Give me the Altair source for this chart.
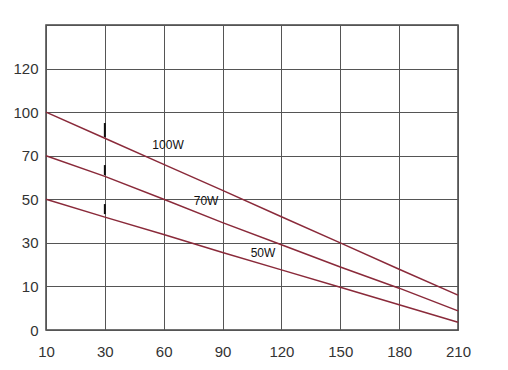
import altair as alt
import pandas as pd

# Axis grid values (equally spaced on the chart)
x_ticks = [10, 30, 60, 90, 120, 150, 180, 210]
y_ticks = [0, 10, 30, 50, 70, 100, 120, 140]

# Series (value at each x grid line)
series_names = ["100W", "70W", "50W"]
vals_100w = [100, 82.0, 66.0, 54.1, 42.0, 30.0, 17.9, 8.0]
vals_70w = [70, 60.5, 50.0, 39.3, 29.1, 18.9, 9.6, 4.4]
vals_50w = [50, 41.8, 33.8, 25.6, 17.6, 9.8, 5.8, 1.8]

# Short dash marks at x = 30
dash_x = [30, 30, 30]
dash_y1 = [92.5, 65.7, 47.8]
dash_y2 = [82.9, 61.1, 43.2]

# Curve labels
label_text = ["100W", "70W", "50W"]
label_x = [62.2, 81.6, 110.6]
label_y = [77.4, 49.2, 25.3]

W, H = 412, 305
n = len(x_ticks) - 1
x_range = [W * i / n for i in range(n + 1)]
y_range = [H - H * i / n for i in range(n + 1)]

rows = []
for name, vals in zip(series_names, [vals_100w, vals_70w, vals_50w]):
    for xv, yv in zip(x_ticks, vals):
        rows.append({"series": name, "x": xv, "y": yv})
df = pd.DataFrame(rows)
dash_df = pd.DataFrame({"x": dash_x, "y": dash_y1, "y2": dash_y2})
lab_df = pd.DataFrame({"t": label_text, "x": label_x, "y": label_y})

xscale = alt.Scale(domain=x_ticks, range=x_range, nice=False, zero=False)
yscale = alt.Scale(domain=y_ticks, range=y_range, nice=False, zero=False)

xaxis = alt.Axis(values=x_ticks, title=None, grid=True, gridColor="#555555",
                 gridOpacity=1, gridWidth=1, ticks=False, domain=False,
                 labelFont="Liberation Sans", labelFontSize=15, labelColor="#333333",
                 labelPadding=14, labelFlush=False)
yaxis = alt.Axis(values=y_ticks, title=None, grid=True, gridColor="#555555",
                 gridOpacity=1, gridWidth=1, ticks=False, domain=False,
                 labelFont="Liberation Sans", labelFontSize=15, labelColor="#333333",
                 labelPadding=8, labelFlush=False,
                 labelExpr="datum.value == 140 ? '' : datum.label")

lines = alt.Chart(df).mark_line(color="#8a2a3a", strokeWidth=1.5).encode(
    x=alt.X("x:Q", scale=xscale, axis=xaxis),
    y=alt.Y("y:Q", scale=yscale, axis=yaxis),
    detail="series:N",
)

dashes = alt.Chart(dash_df).mark_rule(color="#111111", strokeWidth=2).encode(
    x=alt.X("x:Q", scale=xscale),
    y=alt.Y("y:Q", scale=yscale),
    y2="y2:Q",
)

labels = alt.Chart(lab_df).mark_text(font="Liberation Sans", fontSize=12,
                                     color="#111111").encode(
    x=alt.X("x:Q", scale=xscale),
    y=alt.Y("y:Q", scale=yscale),
    text="t:N",
)

chart = (lines + dashes + labels).properties(
    width=W, height=H,
    autosize=alt.AutoSizeParams(type="none"),
    padding={"left": 38, "top": 17, "right": 42, "bottom": 32},
    background="white",
).configure_view(stroke="#444444", strokeWidth=1.5)

chart.save("out.html", embed_options={"renderer": "svg", "actions": False})
